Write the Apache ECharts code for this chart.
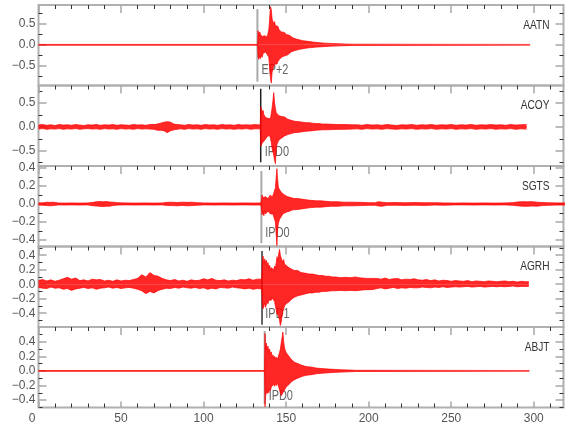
<!DOCTYPE html>
<html><head><meta charset="utf-8">
<script src="https://cdn.jsdelivr.net/npm/echarts@6/dist/echarts.min.js"></script>
<style>html,body{margin:0;padding:0;background:#fff}#c{width:580px;height:440px}</style>
</head><body><div id="c"></div>
<script>
// ---------------- DATA ----------------
const stations = ['AATN', 'ACOY', 'SGTS', 'AGRH', 'ABJT'];

const aatnT = [0, 132.7, 133.0, 133.5, 134.0, 134.5, 135.0, 135.5, 136.0, 136.5,
  137.0, 137.5, 138.0, 138.5, 139.0, 139.5, 140.0, 140.5, 141.0, 141.5,
  142.0, 142.5, 143.0, 143.5, 144.0, 144.5, 145.0, 145.5, 146.0, 146.5,
  147.0, 147.5, 148.0, 149, 150, 151, 152, 153, 154, 155,
  156, 157, 158, 159, 160, 162, 164, 166, 168, 170,
  172, 174, 176, 179, 182, 186, 190, 297.8];
const aatnHi = [0.01, 0.01, 0.34, 0.22, 0.31, 0.25, 0.28, 0.20, 0.23, 0.16,
  0.22, 0.18, 0.24, 0.19, 0.21, 0.35, 0.62, 0.92, 0.85, 0.62,
  0.58, 0.50, 0.56, 0.46, 0.50, 0.42, 0.45, 0.38, 0.36, 0.39,
  0.31, 0.34, 0.29, 0.30, 0.25, 0.22, 0.23, 0.19, 0.17, 0.16,
  0.14, 0.13, 0.12, 0.11, 0.10, 0.09, 0.08, 0.07, 0.06, 0.05,
  0.045, 0.04, 0.035, 0.03, 0.025, 0.02, 0.015, 0.01];
const aatnLo = [-0.01, -0.01, -0.30, -0.35, -0.27, -0.33, -0.24, -0.30, -0.21, -0.18,
  -0.22, -0.17, -0.20, -0.23, -0.19, -0.30, -0.55, -0.80, -0.92, -0.66,
  -0.58, -0.52, -0.47, -0.50, -0.43, -0.46, -0.40, -0.42, -0.35, -0.32,
  -0.34, -0.29, -0.30, -0.27, -0.23, -0.24, -0.20, -0.17, -0.16, -0.14,
  -0.13, -0.12, -0.11, -0.10, -0.09, -0.08, -0.07, -0.065, -0.055, -0.05,
  -0.045, -0.04, -0.035, -0.03, -0.025, -0.02, -0.015, -0.01];

const acoyT = [0, 2.5, 5, 7.5, 10, 12.5, 15, 17.5, 20, 22.5,
  25, 27.5, 30, 32.5, 35, 37.5, 40, 42.5, 45, 47.5,
  50, 52.5, 55, 57.5, 60, 62.5, 65, 67.5,
  70, 72, 74, 75, 76, 77, 78, 79, 80, 81, 82, 84,
  86, 88.5, 91, 93.5, 96, 98.5, 101, 103.5, 106, 108.5, 111, 113.5, 116, 118.5, 121, 123.5, 126, 128.5, 131,
  134.3, 134.7, 135.0, 135.5, 136.0, 136.5, 137.0, 137.5, 138.0, 138.5,
  139.0, 139.5, 140.0, 140.5, 141.0, 141.5, 142.0, 142.5, 143.0, 143.5,
  144.0, 144.5, 145.0, 145.5, 146.0, 147, 148, 149, 150, 151,
  152, 153, 154, 155, 156, 158, 160, 162, 164, 166,
  168, 170, 172, 175, 178, 182, 186, 190,
  193, 196, 199, 202, 205, 208, 211, 214, 217, 220,
  223, 226, 229, 232, 235, 238, 241, 244, 247, 250,
  253, 256, 259, 262, 265, 268, 271, 274, 277, 280,
  283, 286, 289, 292, 295, 296];
const acoyHi = [0.04, 0.05, 0.035, 0.045, 0.03, 0.05, 0.04, 0.045, 0.035, 0.05,
  0.04, 0.03, 0.045, 0.04, 0.05, 0.035, 0.045, 0.04, 0.05, 0.035,
  0.045, 0.04, 0.035, 0.05, 0.04, 0.045, 0.035, 0.05,
  0.05, 0.06, 0.08, 0.07, 0.10, 0.09, 0.11, 0.08, 0.10, 0.07, 0.06, 0.05,
  0.045, 0.035, 0.05, 0.04, 0.045, 0.035, 0.05, 0.04, 0.045, 0.035, 0.05, 0.04, 0.045, 0.035, 0.05, 0.04, 0.045, 0.04, 0.05,
  0.04, 0.42, 0.38, 0.30, 0.35, 0.26, 0.30, 0.20, 0.22, 0.16,
  0.18, 0.15, 0.20, 0.17, 0.28, 0.40, 0.55, 0.72, 0.50, 0.38,
  0.30, 0.26, 0.28, 0.24, 0.25, 0.22, 0.20, 0.21, 0.18, 0.16,
  0.17, 0.14, 0.13, 0.12, 0.12, 0.11, 0.10, 0.09, 0.09, 0.08,
  0.07, 0.07, 0.06, 0.06, 0.055, 0.05, 0.05, 0.045,
  0.045, 0.035, 0.05, 0.04, 0.045, 0.035, 0.05, 0.04, 0.03, 0.045,
  0.04, 0.05, 0.035, 0.045, 0.04, 0.05, 0.035, 0.045, 0.04, 0.05,
  0.035, 0.045, 0.04, 0.05, 0.035, 0.045, 0.04, 0.05, 0.04, 0.045,
  0.035, 0.05, 0.04, 0.045, 0.05, 0.045];
const acoyLo = [-0.045, -0.035, -0.05, -0.04, -0.045, -0.035, -0.05, -0.04, -0.045, -0.035,
  -0.05, -0.04, -0.035, -0.045, -0.04, -0.05, -0.035, -0.045, -0.04, -0.05,
  -0.035, -0.045, -0.04, -0.05, -0.035, -0.045, -0.04, -0.045,
  -0.05, -0.07, -0.07, -0.09, -0.08, -0.11, -0.12, -0.09, -0.08, -0.07, -0.06, -0.05,
  -0.04, -0.05, -0.035, -0.045, -0.04, -0.05, -0.035, -0.045, -0.04, -0.05, -0.035, -0.045, -0.04, -0.05, -0.04, -0.045, -0.035, -0.05, -0.04,
  -0.04, -0.40, -0.42, -0.34, -0.30, -0.38, -0.28, -0.30, -0.24, -0.20,
  -0.22, -0.19, -0.18, -0.24, -0.32, -0.45, -0.52, -0.60, -0.70, -0.77,
  -0.45, -0.36, -0.34, -0.28, -0.26, -0.24, -0.21, -0.19, -0.17, -0.16,
  -0.15, -0.14, -0.13, -0.12, -0.11, -0.11, -0.10, -0.09, -0.085, -0.08,
  -0.07, -0.065, -0.06, -0.06, -0.055, -0.05, -0.05, -0.045,
  -0.04, -0.05, -0.035, -0.045, -0.04, -0.05, -0.035, -0.045, -0.05, -0.04,
  -0.045, -0.035, -0.05, -0.04, -0.045, -0.035, -0.05, -0.04, -0.045, -0.035,
  -0.05, -0.04, -0.045, -0.035, -0.05, -0.04, -0.045, -0.035, -0.05, -0.04,
  -0.045, -0.035, -0.05, -0.04, -0.045, -0.045];

const sgtsT = [0, 3, 5, 7, 9, 12, 16, 20, 25, 30, 33, 35, 37, 39, 41, 43, 45, 48, 53, 58,
  64, 70, 75, 78, 81, 84, 87, 90, 93, 96, 100, 106, 112, 118, 124, 130, 134.8,
  135.4, 136, 136.5, 137, 137.5, 138, 138.5, 139, 139.5, 140,
  140.5, 141, 141.5, 142, 142.5, 143, 143.5, 144, 144.4, 144.8,
  145.2, 145.6, 146, 146.5, 147, 147.5, 148, 149, 150, 151,
  152, 153, 154, 155, 157, 159, 161, 163, 165, 168,
  171, 174, 177, 181, 185, 190, 195, 200,
  204, 206, 208, 211, 216, 222, 228, 234, 240, 246,
  252, 258, 264, 270, 276, 282, 287, 290, 293, 296,
  299, 302, 305, 309, 314, 318, 322];
const sgtsHi = [0.012, 0.014, 0.02, 0.018, 0.02, 0.012, 0.01, 0.012, 0.01, 0.012,
  0.018, 0.025, 0.028, 0.024, 0.028, 0.022, 0.02, 0.014, 0.012, 0.01,
  0.012, 0.01, 0.012, 0.018, 0.02, 0.016, 0.02, 0.018, 0.02, 0.015,
  0.012, 0.01, 0.012, 0.01, 0.012, 0.01, 0.012,
  0.10, 0.07, 0.09, 0.06, 0.08, 0.07, 0.09, 0.06, 0.08, 0.07,
  0.10, 0.08, 0.07, 0.09, 0.12, 0.10, 0.18, 0.30, 0.39, 0.28,
  0.20, 0.17, 0.15, 0.17, 0.13, 0.14, 0.11, 0.10, 0.09, 0.08,
  0.085, 0.07, 0.065, 0.06, 0.06, 0.055, 0.05, 0.045, 0.04, 0.035,
  0.035, 0.03, 0.025, 0.025, 0.02, 0.02, 0.018, 0.015,
  0.015, 0.025, 0.02, 0.015, 0.016, 0.014, 0.016, 0.014, 0.015, 0.012,
  0.01, 0.012, 0.01, 0.012, 0.01, 0.012, 0.015, 0.022, 0.026, 0.024,
  0.026, 0.02, 0.016, 0.014, 0.012, 0.012, 0.012];
const sgtsLo = [-0.012, -0.015, -0.018, -0.02, -0.018, -0.01, -0.012, -0.01, -0.012, -0.01,
  -0.02, -0.022, -0.026, -0.028, -0.024, -0.025, -0.018, -0.012, -0.01, -0.012,
  -0.01, -0.012, -0.01, -0.016, -0.018, -0.02, -0.016, -0.02, -0.018, -0.014,
  -0.01, -0.012, -0.01, -0.012, -0.01, -0.012, -0.012,
  -0.12, -0.09, -0.13, -0.08, -0.11, -0.10, -0.12, -0.08, -0.10, -0.09,
  -0.11, -0.10, -0.09, -0.11, -0.14, -0.12, -0.20, -0.34, -0.46, -0.30,
  -0.22, -0.20, -0.17, -0.18, -0.14, -0.13, -0.11, -0.10, -0.09, -0.085,
  -0.08, -0.07, -0.065, -0.06, -0.06, -0.055, -0.05, -0.045, -0.04, -0.035,
  -0.035, -0.03, -0.025, -0.025, -0.02, -0.02, -0.018, -0.015,
  -0.015, -0.022, -0.025, -0.015, -0.014, -0.016, -0.014, -0.016, -0.012, -0.014,
  -0.01, -0.01, -0.012, -0.01, -0.012, -0.01, -0.014, -0.02, -0.024, -0.026,
  -0.022, -0.024, -0.018, -0.015, -0.012, -0.012, -0.012];

const agrhT = [0, 2.5, 5, 7.5, 10, 12.5, 15, 17.5, 20, 22.5,
  25, 27.5, 30, 32.5, 35, 37.5, 40, 42.5, 45, 47.5,
  50, 52.5, 55, 57.5, 60, 62.5, 65, 67.5, 70, 72.5,
  75, 77.5, 80, 82.5, 85, 87.5, 90, 92.5, 95, 97.5,
  100, 102.5, 105, 107.5, 110, 112.5, 115, 117.5, 120, 122.5,
  125, 127.5, 130, 132.5, 135.2,
  135.6, 136.0, 136.5, 137.0, 137.5, 138.0, 138.5, 139.0, 139.5, 140.0,
  140.5, 141.0, 141.5, 142.0, 142.5, 143.0, 143.5, 144.0, 144.5, 145.0,
  145.5, 146.0, 146.5, 147.0, 147.5, 148.0, 148.5, 149.0, 149.5, 150.0,
  151, 152, 153, 154, 155, 156, 157, 158, 159, 160,
  162, 164, 166, 168, 170, 172, 174, 176, 178, 180,
  183, 186, 189, 192, 194, 196, 199, 202,
  205, 207.5, 210, 212.5, 215, 217.5, 220, 222.5, 225, 227.5,
  230, 232.5, 235, 237.5, 240, 242.5, 245, 247.5, 250, 252.5,
  255, 257.5, 260, 262.5, 265, 267.5, 270, 272.5, 275, 277.5,
  280, 282.5, 285, 287.5, 290, 292.5, 295, 297];
const agrhHi = [0.05, 0.065, 0.045, 0.06, 0.04, 0.055, 0.075, 0.095, 0.07, 0.085,
  0.05, 0.06, 0.045, 0.07, 0.06, 0.065, 0.045, 0.055, 0.04, 0.06,
  0.045, 0.055, 0.05, 0.065, 0.08, 0.13, 0.10, 0.16, 0.12, 0.11,
  0.08, 0.06, 0.05, 0.065, 0.045, 0.055, 0.04, 0.06, 0.05, 0.055,
  0.075, 0.06, 0.08, 0.055, 0.05, 0.06, 0.045, 0.055, 0.05, 0.065,
  0.06, 0.075, 0.055, 0.07, 0.07,
  0.30, 0.39, 0.28, 0.35, 0.30, 0.33, 0.25, 0.30, 0.22, 0.26,
  0.20, 0.23, 0.19, 0.22, 0.18, 0.25, 0.22, 0.30, 0.38, 0.33,
  0.42, 0.48, 0.40, 0.36, 0.38, 0.30, 0.34, 0.28, 0.26, 0.27,
  0.24, 0.25, 0.21, 0.22, 0.19, 0.18, 0.19, 0.17, 0.16, 0.17,
  0.15, 0.14, 0.14, 0.13, 0.12, 0.12, 0.11, 0.11, 0.10, 0.10,
  0.09, 0.095, 0.09, 0.10, 0.09, 0.085, 0.08, 0.08,
  0.08, 0.07, 0.085, 0.065, 0.075, 0.08, 0.06, 0.07, 0.065, 0.075,
  0.06, 0.055, 0.065, 0.05, 0.06, 0.045, 0.055, 0.05, 0.04, 0.05,
  0.045, 0.04, 0.05, 0.035, 0.045, 0.04, 0.035, 0.045, 0.04, 0.035,
  0.04, 0.045, 0.035, 0.04, 0.03, 0.04, 0.035, 0.035];
const agrhLo = [-0.045, -0.055, -0.06, -0.04, -0.055, -0.05, -0.07, -0.06, -0.085, -0.065,
  -0.055, -0.045, -0.06, -0.05, -0.07, -0.055, -0.05, -0.04, -0.055, -0.045,
  -0.06, -0.05, -0.045, -0.055, -0.07, -0.09, -0.13, -0.10, -0.12, -0.085,
  -0.07, -0.055, -0.06, -0.045, -0.055, -0.04, -0.05, -0.055, -0.045, -0.06,
  -0.05, -0.07, -0.055, -0.065, -0.045, -0.05, -0.055, -0.04, -0.05, -0.055,
  -0.065, -0.055, -0.07, -0.06, -0.065,
  -0.28, -0.34, -0.30, -0.26, -0.32, -0.28, -0.24, -0.27, -0.22, -0.24,
  -0.20, -0.22, -0.19, -0.21, -0.20, -0.24, -0.30, -0.36, -0.42, -0.38,
  -0.45, -0.50, -0.57, -0.52, -0.44, -0.38, -0.34, -0.30, -0.28, -0.27,
  -0.25, -0.24, -0.21, -0.20, -0.18, -0.17, -0.16, -0.16, -0.15, -0.14,
  -0.13, -0.12, -0.12, -0.11, -0.11, -0.10, -0.10, -0.095, -0.09, -0.09,
  -0.085, -0.09, -0.085, -0.09, -0.085, -0.08, -0.075, -0.075,
  -0.06, -0.05, -0.065, -0.055, -0.045, -0.06, -0.05, -0.055, -0.045, -0.05,
  -0.05, -0.04, -0.045, -0.05, -0.04, -0.045, -0.035, -0.045, -0.04, -0.035,
  -0.04, -0.035, -0.03, -0.04, -0.035, -0.03, -0.04, -0.035, -0.03, -0.035,
  -0.03, -0.035, -0.03, -0.025, -0.035, -0.03, -0.03, -0.03];

const abjtT = [0, 136.9, 137.2, 137.5, 138.0, 138.5, 139.0, 139.5, 140.0, 140.5,
  141.0, 141.5, 142.0, 142.5, 143.0, 143.5, 144.0, 144.5, 145.0, 145.5,
  146.0, 146.5, 147.0, 147.5, 148.0, 148.5, 149.0, 149.5, 150.0, 150.5,
  151.0, 152, 153, 154, 155, 156, 157, 158, 159, 160,
  162, 164, 166, 168, 170, 173, 176, 180, 184, 188, 192, 297.4];
const abjtHi = [0.006, 0.006, 0.51, 0.30, 0.38, 0.28, 0.34, 0.25, 0.30, 0.22,
  0.26, 0.18, 0.22, 0.17, 0.20, 0.16, 0.19, 0.15, 0.18, 0.20,
  0.25, 0.30, 0.38, 0.45, 0.53, 0.40, 0.32, 0.28, 0.25, 0.27,
  0.22, 0.20, 0.16, 0.14, 0.12, 0.11, 0.10, 0.09, 0.08, 0.07,
  0.06, 0.055, 0.05, 0.04, 0.035, 0.03, 0.025, 0.02, 0.015, 0.012, 0.008, 0.006];
const abjtLo = [-0.006, -0.006, -0.49, -0.35, -0.28, -0.31, -0.26, -0.30, -0.24, -0.27,
  -0.22, -0.20, -0.23, -0.18, -0.21, -0.17, -0.20, -0.16, -0.19, -0.22,
  -0.26, -0.30, -0.34, -0.36, -0.30, -0.28, -0.26, -0.24, -0.22, -0.23,
  -0.20, -0.18, -0.15, -0.13, -0.12, -0.11, -0.10, -0.09, -0.08, -0.07,
  -0.06, -0.055, -0.05, -0.04, -0.035, -0.03, -0.025, -0.02, -0.015, -0.012, -0.008, -0.006];

const xLabelTicks = [0, 50, 100, 150, 200, 250, 300];
const xMinorTicks = [10, 20, 30, 40, 60, 70, 80, 90, 110, 120, 130, 140, 160, 170, 180, 190,
  210, 220, 230, 240, 260, 270, 280, 290, 310];
const yLabelTicks = [[-0.5, 0, 0.5], [-0.5, 0, 0.5], [-0.4, -0.2, 0, 0.2, 0.4],
  [-0.4, -0.2, 0, 0.2, 0.4], [-0.4, -0.2, 0, 0.2, 0.4]];
const yMinorTicks = [[-0.75, -0.25, 0.25, 0.75], [-0.75, -0.25, 0.25, 0.75], [-0.3, -0.1, 0.1, 0.3],
  [-0.5, -0.3, -0.1, 0.1, 0.3, 0.5], [-0.5, -0.3, -0.1, 0.1, 0.3, 0.5]];
const yRanges = [[-0.98, 0.96], [-0.82, 0.87], [-0.47, 0.42], [-0.59, 0.52], [-0.50, 0.60]];
const picks = [132.6, 134.6, 135.0, 135.4, 137.0];
const pickLabels = ['EP+2', 'IPD0', 'IPD0', 'IPD1', 'IPD0'];

// ---------------- LAYOUT / STYLE ----------------
const traces = [[aatnT, aatnHi, aatnLo], [acoyT, acoyHi, acoyLo], [sgtsT, sgtsHi, sgtsLo],
  [agrhT, agrhHi, agrhLo], [abjtT, abjtHi, abjtLo]];
const FONT = "'Liberation Sans', Arial, sans-serif";
const panelTop = [5, 85.5, 166, 246.5, 327];
const panelH = 80.5;
const gridLeft = 38.5, gridW = 525, xMax = 318;
const pickSpan = [[0.855, -0.889], [0.80, -0.74], [0.365, -0.435], [0.458, -0.559], [0.545, -0.452]];
const pickLineColor = ['#aaaaaa', '#222222', '#aaaaaa', '#333333', '#aaaaaa'];
const pickLabelPos = [[135.0, -0.62], [137.0, -0.52], [137.4, -0.32], [137.4, -0.41], [139.4, -0.34]];
const GRAY = '#a8a8a8', DARK = '#333';
const fmtY = v => (v < 0 ? '\u2212' : '') + Math.abs(v).toFixed(1);

const grid = [], xAxis = [], yAxis = [], series = [];
for (let i = 0; i < 5; i++) {
  grid.push({left: gridLeft, top: panelTop[i], width: gridW, height: panelH, show: true,
    borderColor: '#b0b0b0', borderWidth: 2});
  const xb = {gridIndex: i, type: 'value', min: 0, max: xMax, axisLine: {show: false, onZero: false},
    splitLine: {show: false}, axisLabel: {show: false}};
  xAxis.push(Object.assign({}, xb, {position: 'top',
    axisTick: {show: true, inside: true, length: 8, customValues: xLabelTicks, lineStyle: {color: GRAY, width: 1.5}}}));
  xAxis.push(Object.assign({}, xb, {position: 'top',
    axisTick: {show: true, inside: true, length: 4, customValues: xMinorTicks, lineStyle: {color: DARK, width: 1}}}));
  const yb = {gridIndex: i, type: 'value', min: yRanges[i][0], max: yRanges[i][1],
    axisLine: {show: false, onZero: false}, splitLine: {show: false}};
  yAxis.push(Object.assign({}, yb, {position: 'left',
    axisTick: {show: true, inside: true, length: 8, customValues: yLabelTicks[i], lineStyle: {color: GRAY, width: 1.5}},
    axisLabel: {show: true, customValues: yLabelTicks[i], formatter: fmtY, margin: 3, color: '#555',
      fontSize: 12, fontFamily: FONT}}));
  yAxis.push(Object.assign({}, yb, {position: 'left', axisLabel: {show: false},
    axisTick: {show: true, inside: true, length: 4, customValues: yMinorTicks[i], lineStyle: {color: DARK, width: 1}}}));
  yAxis.push(Object.assign({}, yb, {position: 'right', axisLabel: {show: false},
    axisTick: {show: true, inside: true, length: 8, customValues: yLabelTicks[i], lineStyle: {color: GRAY, width: 1.5}}}));
  yAxis.push(Object.assign({}, yb, {position: 'right', axisLabel: {show: false},
    axisTick: {show: true, inside: true, length: 4, customValues: yMinorTicks[i], lineStyle: {color: DARK, width: 1}}}));

  const xi = 2 * i, yi = 4 * i;
  // pick line (below trace)
  series.push({type: 'line', xAxisIndex: xi, yAxisIndex: yi, symbol: 'none', silent: true, z: 1,
    data: [[picks[i], pickSpan[i][0]], [picks[i], pickSpan[i][1]]],
    lineStyle: {color: pickLineColor[i], width: i === 1 || i === 3 ? 1.5 : 2}});
  const [T, HI, LO] = traces[i];
  [HI, LO].forEach(V => {
    series.push({type: 'line', xAxisIndex: xi, yAxisIndex: yi, symbol: 'none', silent: true, z: 3,
      data: T.map((t, k) => [t, V[k]]),
      lineStyle: {color: '#ff0000', width: 0.7},
      areaStyle: {color: '#ff0000', opacity: 0.85}});
  });
}
// bottom axis with labels for last panel
const xbb = {gridIndex: 4, type: 'value', min: 0, max: xMax, position: 'bottom',
  axisLine: {show: false, onZero: false}, splitLine: {show: false}};
xAxis.push(Object.assign({}, xbb, {
  axisTick: {show: true, inside: true, length: 6, customValues: xLabelTicks, lineStyle: {color: GRAY, width: 1.5}},
  axisLabel: {show: true, customValues: xLabelTicks, margin: 5, color: '#555', fontSize: 12, fontFamily: FONT,
    formatter: v => v === 0 ? '{z|0}' : String(v),
    rich: {z: {padding: [0, 13, 0, 0], color: '#555', fontSize: 12, fontFamily: FONT}}}}));
xAxis.push(Object.assign({}, xbb, {axisLabel: {show: false},
  axisTick: {show: true, inside: true, length: 4, customValues: xMinorTicks, lineStyle: {color: DARK, width: 1}}}));

const chart = echarts.init(document.getElementById('c'));
chart.setOption({animation: false, backgroundColor: '#fff', grid, xAxis, yAxis, series});

// text labels (station names, pick labels), horizontally condensed like the original
const graphic = [];
for (let i = 0; i < 5; i++) {
  const rightEdge = chart.convertToPixel({gridIndex: i}, [xMax, 0])[0];
  graphic.push({type: 'text', x: rightEdge - 14, y: panelTop[i] + 20, scaleX: 0.78, z: 10, silent: true,
    style: {text: stations[i], fontSize: 13, fontFamily: FONT, fill: '#333', align: 'right', verticalAlign: 'middle'}});
  const p = chart.convertToPixel({gridIndex: i}, pickLabelPos[i]);
  graphic.push({type: 'text', x: p[0], y: p[1], scaleX: 0.78, z: 1, zlevel: 0, silent: true,
    style: {text: pickLabels[i], fontSize: 14, fontFamily: FONT, fill: '#666', align: 'left', verticalAlign: 'middle'}});
}
chart.setOption({graphic});
</script>
</body></html>
